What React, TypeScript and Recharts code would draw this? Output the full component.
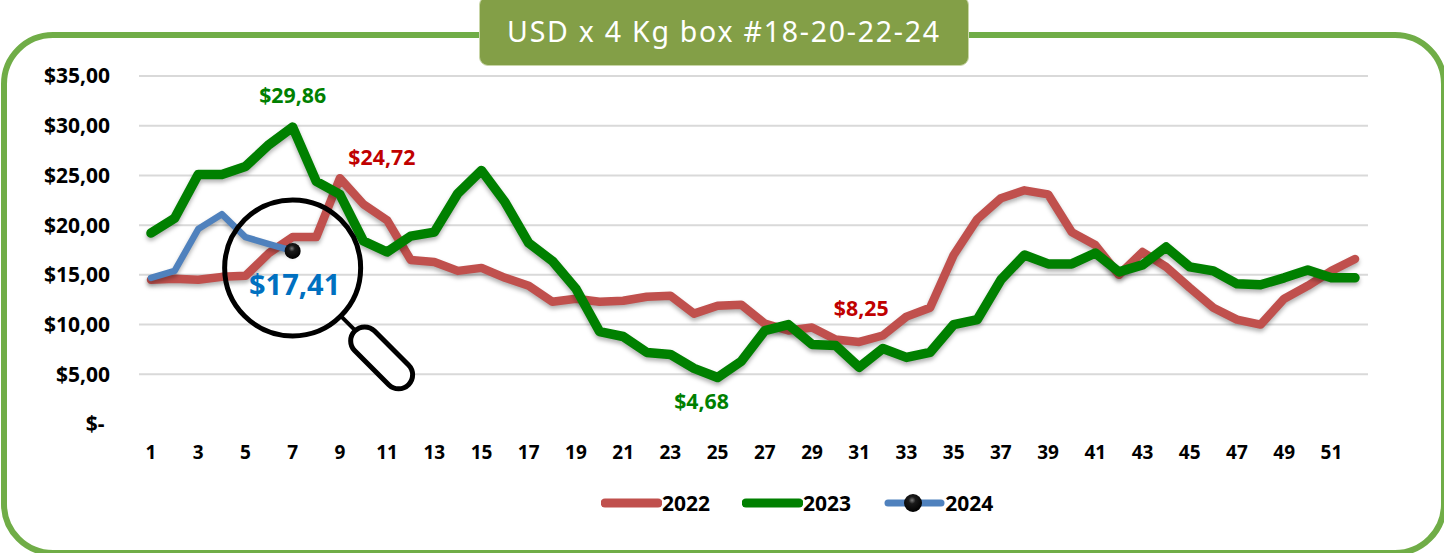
import React from 'react';
import { LineChart, Line, XAxis, YAxis, CartesianGrid, Legend, ReferenceDot } from 'recharts';

const TITLE = 'USD x 4 Kg box #18-20-22-24';
const WEEKS = Array.from({ length: 52 }, (_, i) => i + 1);
const V2022 = [14.5, 14.6, 14.5, 14.8, 14.9, 17.2, 18.8, 18.8, 24.72, 22.1, 20.5, 16.5, 16.3, 15.4, 15.7, 14.7, 13.9, 12.3, 12.6, 12.3, 12.4, 12.8, 12.9, 11.1, 11.9, 12.0, 10.1, 9.4, 9.7, 8.5, 8.25, 8.9, 10.8, 11.7, 17.0, 20.6, 22.7, 23.5, 23.1, 19.3, 18.0, 15.0, 17.3, 15.8, 13.7, 11.7, 10.5, 10.0, 12.6, 13.9, 15.4, 16.6];
const V2023 = [19.2, 20.7, 25.1, 25.1, 25.9, 28.1, 29.86, 24.4, 23.1, 18.4, 17.3, 18.9, 19.3, 23.2, 25.5, 22.3, 18.2, 16.4, 13.6, 9.3, 8.8, 7.2, 7.0, 5.6, 4.68, 6.3, 9.4, 10.0, 8.0, 7.9, 5.7, 7.6, 6.7, 7.2, 10.0, 10.5, 14.5, 17.0, 16.1, 16.1, 17.2, 15.3, 16.0, 17.8, 15.8, 15.4, 14.1, 14.0, 14.7, 15.5, 14.7, 14.7];
const V2024 = [14.7, 15.4, 19.6, 21.1, 18.8, 18.1, 17.41];
const Y_TICKS = [0, 5, 10, 15, 20, 25, 30, 35];
const GRID_VALUES = [5, 10, 15, 20, 25, 30, 35];

const chartData = WEEKS.map((w, i) => ({ week: w, y2022: V2022[i], y2023: V2023[i], y2024: V2024[i] }));

const FONT = '"Noto Sans", sans-serif';
const RED = '#C0504D';
const GREEN = '#008000';
const BLUE = '#4F81BD';
const SHADOW = { filter: 'drop-shadow(0px 3px 2px rgba(0,0,0,0.3))' };

const money = (v: number) => (v === 0 ? '$-\u00a0' : '$' + v.toFixed(2).replace('.', ','));

const callout = (weeks: Record<number, [number, number]>, color: string) => (p: any) => {
  const off = weeks[p.index + 1];
  if (!off) return <g key={p.index} />;
  return (
    <text key={p.index} x={p.x + off[0]} y={p.y + off[1]} textAnchor="middle" dominantBaseline="central"
      fontFamily={FONT} fontWeight={700} fontSize={21.3} fill={color}>{money(p.value)}</text>
  );
};

const Ball = ({ cx, cy, r }: { cx: number; cy: number; r: number }) => (
  <circle cx={cx} cy={cy} r={r} fill="url(#ball)" />
);

const lastDot = (p: any) =>
  p.index === V2024.length - 1 ? <Ball key={p.index} cx={p.cx} cy={p.cy} r={8} /> : <g key={p.index} />;

const Magnifier = (p: any) => {
  const { cx, cy } = p;
  const c = { x: cx, y: cy + 17 };
  const hx = c.x + 89;
  const hy = c.y + 90;
  return (
    <g>
      <circle cx={c.x} cy={c.y} r={68} fill="none" stroke="#000" strokeWidth={5} />
      <line x1={c.x + 49} y1={c.y + 49} x2={c.x + 65} y2={c.y + 65} stroke="#000" strokeWidth={4} />
      <rect x={hx - 38} y={hy - 14} width={76} height={28} rx={14} fill="#fff" stroke="#000" strokeWidth={5}
        transform={`rotate(45 ${hx} ${hy})`} />
      <text x={c.x + 2} y={c.y + 16} textAnchor="middle" dominantBaseline="central"
        fontFamily={FONT} fontWeight={700} fontSize={29} fill="#0070C0">{money(p.value)}</text>
    </g>
  );
};

const LegendContent = ({ payload }: any) => {
  const gaps = [0, 32, 33];
  return (
    <div style={{ display: 'flex', justifyContent: 'flex-start', paddingLeft: 601, height: 30, alignItems: 'center', fontFamily: FONT, fontWeight: 700, fontSize: 21, color: '#000' }}>
      {(payload || []).map((e: any, i: number) => {
        const is24 = e.value === '2024';
        return (
          <div key={e.value} style={{ display: 'flex', alignItems: 'center', marginLeft: gaps[i] }}>
            <svg width={61} height={24} style={{ display: 'block' }}>
              <line x1={4} y1={12} x2={57} y2={12} stroke={e.color} strokeWidth={is24 ? 7 : 9} strokeLinecap="round" />
              {is24 ? <Ball cx={29} cy={12} r={9} /> : null}
            </svg>
            <span>{e.value}</span>
          </div>
        );
      })}
    </div>
  );
};

export default function App() {
  return (
    <div style={{ position: 'absolute', left: 0, top: 0, width: 1444, height: 553, overflow: 'hidden', background: '#fff' }}>
      <div style={{ position: 'absolute', left: 1, top: 32, width: 1446, height: 524, boxSizing: 'border-box', border: '6px solid #70AD47', borderRadius: 52 }} />
      <LineChart width={1444} height={553} data={chartData} margin={{ top: 76, right: 76, bottom: 59, left: 0 }}
        style={{ position: 'absolute', left: 0, top: 0 }}>
        <defs>
          <radialGradient id="ball" cx="45%" cy="35%" r="65%">
            <stop offset="0%" stopColor="#7a7a7a" />
            <stop offset="30%" stopColor="#1a1a1a" />
            <stop offset="100%" stopColor="#000" />
          </radialGradient>
        </defs>
        <CartesianGrid vertical={false} horizontalValues={GRID_VALUES} stroke="#D9D9D9" strokeWidth={2} />
        <XAxis dataKey="week" interval={1} axisLine={false} tickLine={false} tickSize={0} tickMargin={22} height={40}
          padding={{ left: 12, right: 13 }} tick={{ fontFamily: FONT, fontWeight: 700, fontSize: 19, fill: '#000' }} />
        <YAxis domain={[0, 35]} ticks={Y_TICKS} width={139} axisLine={false} tickLine={false} tickSize={0} tickMargin={29}
          tickFormatter={money} tick={{ fontFamily: FONT, fontWeight: 700, fontSize: 21, fill: '#000' }} />
        <Legend height={30} content={<LegendContent />} wrapperStyle={{ left: 0, top: 488, bottom: 'auto', width: 1444, height: 30 }} />
        <Line dataKey="y2022" name="2022" stroke={RED} strokeWidth={8.5} dot={false} isAnimationActive={false} strokeLinecap="round" strokeLinejoin="round"
          style={SHADOW} label={callout({ 9: [42, -22], 31: [2, -34] }, '#C00000')} />
        <Line dataKey="y2023" name="2023" stroke={GREEN} strokeWidth={9.5} dot={false} isAnimationActive={false} strokeLinecap="round" strokeLinejoin="round"
          style={SHADOW} label={callout({ 7: [0, -33], 25: [-16, 23] }, GREEN)} />
        <Line dataKey="y2024" name="2024" stroke={BLUE} strokeWidth={6.5} dot={lastDot} isAnimationActive={false} strokeLinecap="round" strokeLinejoin="round" style={SHADOW} />
        <ReferenceDot x={7} y={V2024[6]} value={V2024[6]} shape={(p: any) => <Magnifier {...p} value={V2024[6]} />} />
      </LineChart>
      <div style={{ position: 'absolute', left: 479, top: -4, width: 490, height: 70, boxSizing: 'border-box', background: '#839F47', borderRadius: 9, border: '1px solid #c9d6a8', color: '#fff', display: 'flex', alignItems: 'center', justifyContent: 'center', paddingTop: 0, fontFamily: FONT, fontSize: 28.5, letterSpacing: 1.75, whiteSpace: 'nowrap' }}>
        {TITLE}
      </div>
    </div>
  );
}
